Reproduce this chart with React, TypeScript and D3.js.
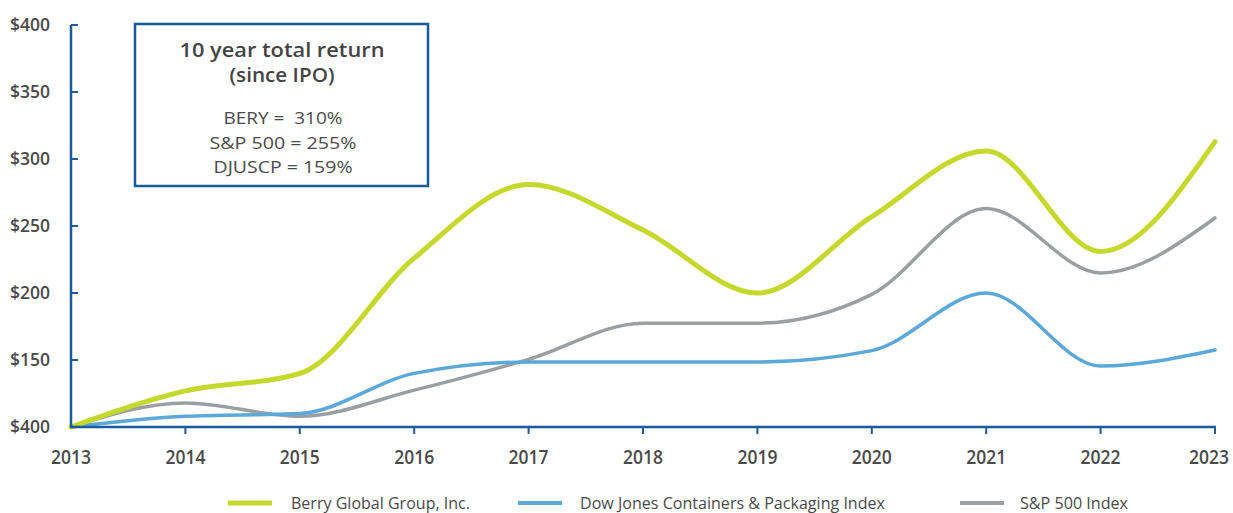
import React from "react";
import * as d3 from "d3";

const years = [2013, 2014, 2015, 2016, 2017, 2018, 2019, 2020, 2021, 2022, 2023];
const berry = [100, 127, 140, 226, 281, 247, 200, 257, 306, 231, 313];
const djuscp = [100, 108, 110, 140, 148.5, 148.5, 148.5, 157, 200, 145.5, 157.5];
const sp500 = [100, 118, 108, 127.5, 150.5, 177.5, 177.5, 199, 263, 215, 256];

const yTicks = [100, 150, 200, 250, 300, 350, 400];
const yTickLabels = ["$400", "$150", "$200", "$250", "$300", "$350", "$400"];

const boxTitle = ["10 year total return", "(since IPO)"];
const boxLines = ["BERY =  310%", "S&P 500 = 255%", "DJUSCP = 159%"];

const seriesNames = ["Berry Global Group, Inc.", "Dow Jones Containers & Packaging Index", "S&P 500 Index"];

const W = 1233;
const H = 513;
const AXIS = "#1b5a9c";
const TEXT = "#4a4a4a";
const colors = ["#c5d82c", "#5ba8da", "#9b9fa2"];
const widths = [5, 3.5, 3.5];

export default function App() {
  const x = d3.scaleLinear().domain([2013, 2023]).range([71, 1215]);
  const y = d3.scaleLinear().domain([100, 400]).range([427, 25]);
  const line = d3
    .line<number>()
    .x((_, i) => x(years[i]))
    .y((d) => y(d))
    .curve(d3.curveMonotoneX);

  const series = [berry, djuscp, sp500];
  const legend = [
    { lx: 228, tx: 291, tl: 179 },
    { lx: 518, tx: 580, tl: 305 },
    { lx: 960, tx: 1020, tl: 108 },
  ];
  const titleLen = [205, 105];
  const lineLen = [119, 147, 139];

  return (
    <svg
      width={W}
      height={H}
      style={{ position: "absolute", left: 0, top: 0, display: "block", background: "#fff" }}
      fontFamily="'Open Sans', sans-serif"
    >
      {/* series */}
      {[2, 1, 0].map((k) => (
        <path
          key={k}
          d={line(series[k]) || ""}
          fill="none"
          stroke={colors[k]}
          strokeWidth={widths[k]}
          strokeLinecap="round"
          strokeLinejoin="round"
        />
      ))}

      {/* axes */}
      <line x1={x(2013)} x2={x(2013)} y1={y(400)} y2={y(100)} stroke={AXIS} strokeWidth={2.5} />
      <line x1={x(2013) - 1} x2={x(2023) + 1} y1={y(100)} y2={y(100)} stroke={AXIS} strokeWidth={2.5} />
      {yTicks.map((t, i) => (
        <g key={t}>
          <line x1={x(2013)} x2={x(2013) + 7} y1={y(t)} y2={y(t)} stroke={AXIS} strokeWidth={2} />
          <text
            x={50}
            y={y(t)}
            dy="0.32em"
            textAnchor="end"
            fontSize={18}
            fontWeight={600}
            fill={TEXT}
            textLength={40}
            lengthAdjust="spacingAndGlyphs"
          >
            {yTickLabels[i]}
          </text>
        </g>
      ))}
      {years.map((yr) => (
        <g key={yr}>
          {yr !== 2013 && (
            <line x1={x(yr)} x2={x(yr)} y1={y(100)} y2={y(100) + 7} stroke={AXIS} strokeWidth={2} />
          )}
          <text
            x={Math.min(x(yr), W - 24)}
            y={464}
            textAnchor="middle"
            fontSize={19}
            fontWeight={600}
            fill={TEXT}
            textLength={40}
            lengthAdjust="spacingAndGlyphs"
          >
            {yr}
          </text>
        </g>
      ))}

      {/* annotation box */}
      <rect x={135} y={24} width={293} height={162} fill="#fff" stroke={AXIS} strokeWidth={2.5} />
      {boxTitle.map((s, i) => (
        <text
          key={s}
          x={282}
          y={57 + i * 25}
          textAnchor="middle"
          fontSize={20}
          fontWeight={600}
          fill="#444"
          textLength={titleLen[i]}
          lengthAdjust="spacingAndGlyphs"
        >
          {s}
        </text>
      ))}
      {boxLines.map((s, i) => (
        <text
          key={s}
          x={283}
          y={124 + i * 24.5}
          textAnchor="middle"
          fontSize={17}
          fill={TEXT}
          textLength={lineLen[i]}
          lengthAdjust="spacingAndGlyphs"
          style={{ whiteSpace: "pre" }}
        >
          {s}
        </text>
      ))}

      {/* legend */}
      {seriesNames.map((n, k) => (
        <g key={n}>
          <line
            x1={legend[k].lx}
            x2={legend[k].lx + 44}
            y1={503}
            y2={503}
            stroke={colors[k]}
            strokeWidth={k === 0 ? 5 : 4}
          />
          <text
            x={legend[k].tx}
            y={509}
            fontSize={17}
            fill={TEXT}
            textLength={legend[k].tl}
            lengthAdjust="spacingAndGlyphs"
          >
            {n}
          </text>
        </g>
      ))}
    </svg>
  );
}
